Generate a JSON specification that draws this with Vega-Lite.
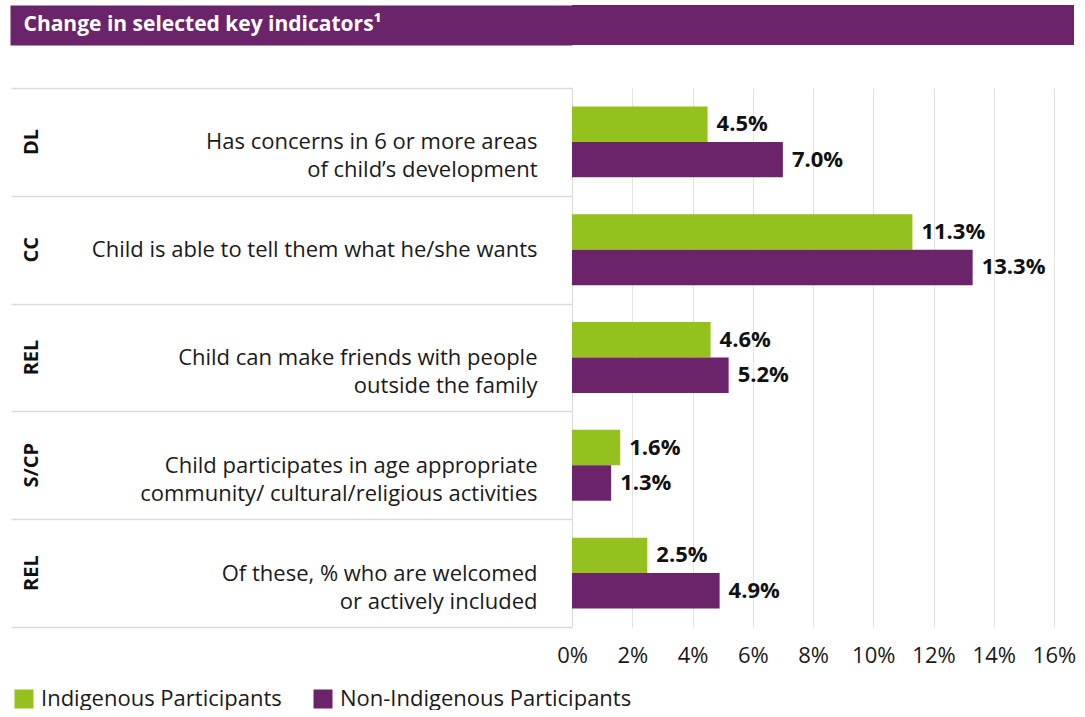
{
  "$schema": "https://vega.github.io/schema/vega-lite/v6.json",
  "padding": {"left": -10, "top": 5, "right": 5, "bottom": 0},
  "autosize": {"type": "pad"},
  "background": "white",
  "config": {"font": "Open Sans", "view": {"stroke": null}},
  "spacing": 32,
  "vconcat": [
    {
      "width": 502,
      "height": 40,
      "data": {"values": [{"t": "Change in selected key indicators¹"}]},
      "mark": {"type": "rect", "color": "#6b2469"},
      "encoding": {
        "y": {
          "field": "t", "type": "nominal",
          "scale": {"paddingInner": 0, "paddingOuter": 0},
          "axis": {
            "title": null, "orient": "left", "domain": false, "grid": false,
            "ticks": true, "tickSize": 562, "tickWidth": 40, "tickColor": "#6b2469", "tickCap": "butt",
            "labelAlign": "left", "labelBaseline": "middle", "labelPadding": -13,
            "labelColor": "white", "labelFont": "Open Sans", "labelFontSize": 21, "labelFontWeight": "bold",
            "labelLimit": 1000
          }
        }
      }
    },
    {
      "width": 482,
      "height": 539,
      "data": {
        "values": [
          {"key": "DL|Has concerns in 6 or more areas|of child’s development", "series": "Indigenous Participants", "value": 0.045},
          {"key": "DL|Has concerns in 6 or more areas|of child’s development", "series": "Non-Indigenous Participants", "value": 0.070},
          {"key": "CC|Child is able to tell them what he/she wants", "series": "Indigenous Participants", "value": 0.113},
          {"key": "CC|Child is able to tell them what he/she wants", "series": "Non-Indigenous Participants", "value": 0.133},
          {"key": "REL|Child can make friends with people|outside the family", "series": "Indigenous Participants", "value": 0.046},
          {"key": "REL|Child can make friends with people|outside the family", "series": "Non-Indigenous Participants", "value": 0.052},
          {"key": "S/CP|Child participates in age appropriate|community/ cultural/religious activities", "series": "Indigenous Participants", "value": 0.016},
          {"key": "S/CP|Child participates in age appropriate|community/ cultural/religious activities", "series": "Non-Indigenous Participants", "value": 0.013},
          {"key": "REL|Of these, % who are welcomed|or actively included", "series": "Indigenous Participants", "value": 0.025},
          {"key": "REL|Of these, % who are welcomed|or actively included", "series": "Non-Indigenous Participants", "value": 0.049}
        ]
      },
      "resolve": {"scale": {"y": "independent"}, "axis": {"y": "independent"}},
      "layer": [
        {
          "mark": {"type": "bar"},
          "encoding": {
            "y": {
              "field": "key", "type": "nominal", "sort": null,
              "scale": {"paddingInner": 0, "paddingOuter": 0},
              "axis": {
                "title": null, "orient": "left", "grid": false,
                "domain": true, "domainColor": "#dadada", "domainWidth": 1,
                "ticks": true, "tickBand": "extent", "tickSize": 561, "tickColor": "#dadada", "tickWidth": 1.5,
                "labelPadding": -526,
                "labelExpr": "slice(split(datum.value, '|'), 1)",
                "labelFont": "Open Sans", "labelFontSize": 22, "labelColor": "#1a1a1a",
                "labelLineHeight": 28, "labelAlign": "right", "labelBaseline": "middle",
                "labelLimit": 700, "labelOverlap": false
              }
            },
            "yOffset": {
              "field": "series", "type": "nominal",
              "sort": ["Indigenous Participants", "Non-Indigenous Participants"],
              "scale": {"paddingInner": 0, "paddingOuter": 0.52}
            },
            "x": {
              "field": "value", "type": "quantitative",
              "scale": {"domain": [0, 0.16], "nice": false},
              "axis": {
                "title": null, "orient": "bottom",
                "values": [0, 0.02, 0.04, 0.06, 0.08, 0.10, 0.12, 0.14, 0.16],
                "format": ".0%",
                "domain": false, "ticks": false, "tickSize": 0,
                "grid": true, "gridColor": "#e3e3e3", "gridWidth": 1,
                "labelFont": "Open Sans", "labelFontSize": 22, "labelColor": "#1a1a1a",
                "labelPadding": 18, "labelFlush": false, "labelOverlap": false
              }
            },
            "color": {
              "field": "series", "type": "nominal",
              "scale": {"domain": ["Indigenous Participants", "Non-Indigenous Participants"], "range": ["#95c11f", "#6b2469"]},
              "legend": {
                "title": null, "orient": "none", "legendX": -559, "legendY": 683,
                "direction": "horizontal", "symbolType": "square", "symbolSize": 361,
                "symbolStrokeWidth": 0, "labelFont": "Open Sans", "labelFontSize": 22,
                "labelColor": "#1a1a1a", "labelOffset": 6, "columnPadding": 30,
                "padding": 0, "labelLimit": 400
              }
            }
          }
        },
        {
          "mark": {"type": "text", "align": "left", "baseline": "middle", "dx": 9, "fontSize": 22, "fontWeight": "bold", "color": "#111111", "font": "Open Sans"},
          "encoding": {
            "y": {
              "field": "key", "type": "nominal", "sort": null,
              "scale": {"paddingInner": 0, "paddingOuter": 0},
              "axis": {
                "title": null, "orient": "left", "grid": false,
                "domain": false, "ticks": false, "tickSize": 0,
                "labelAngle": 270, "labelAlign": "center", "labelBaseline": "middle",
                "labelPadding": 541,
                "labelExpr": "split(datum.value, '|')[0]",
                "labelFont": "Open Sans", "labelFontSize": 20, "labelFontWeight": "bold", "labelColor": "#111111",
                "labelOverlap": false
              }
            },
            "yOffset": {
              "field": "series", "type": "nominal",
              "sort": ["Indigenous Participants", "Non-Indigenous Participants"]
            },
            "x": {"field": "value", "type": "quantitative"},
            "text": {"field": "value", "type": "quantitative", "format": ".1%"}
          }
        }
      ]
    }
  ]
}
